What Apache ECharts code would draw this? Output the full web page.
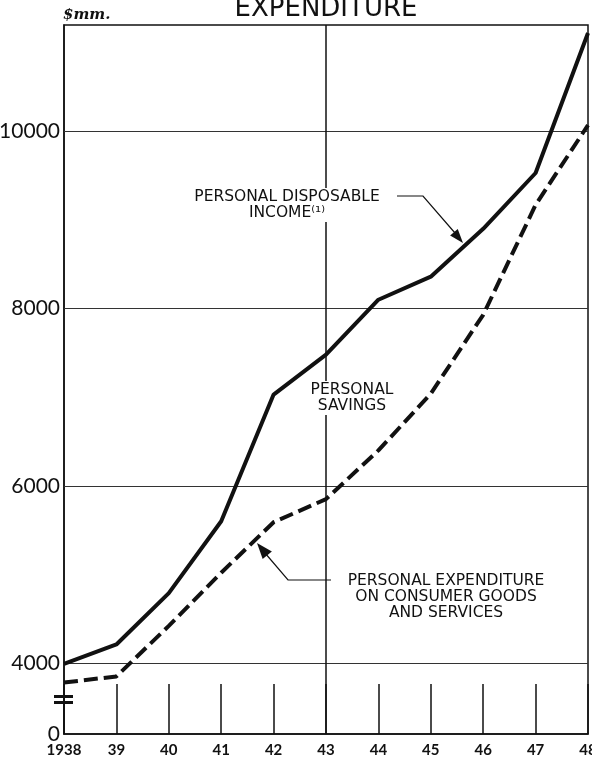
<!DOCTYPE html>
<html>
<head>
<meta charset="utf-8">
<script src="https://cdn.jsdelivr.net/npm/echarts@6/dist/echarts.min.js"></script>
<style>
  html, body { margin: 0; padding: 0; background: #fff; }
  #chart { width: 592px; height: 758px; }
</style>
</head>
<body>
<div id="chart"></div>
<script>
const years = ["1938", "39", "40", "41", "42", "43", "44", "45", "46", "47", "48"];
const disposableIncome = [3990, 4210, 4790, 5600, 7030, 7480, 8100, 8360, 8900, 9530, 11110];
const consumerExpenditure = [3780, 3850, 4420, 5020, 5590, 5850, 6400, 7040, 7930, 9170, 10070];
const gridValues = [4000, 6000, 8000, 10000];
const yLabels = { 3200: "0", 4000: "4000", 6000: "6000", 8000: "8000", 10000: "10000" };

const chart = echarts.init(document.getElementById("chart"));

// small filled arrowhead pointing at (tx, ty), coming from (fx, fy)
function arrowHead(fx, fy, tx, ty, len, half) {
  const d = Math.hypot(tx - fx, ty - fy);
  const ux = (tx - fx) / d, uy = (ty - fy) / d;
  const bx = tx - ux * len, by = ty - uy * len;
  return {
    type: "polygon",
    z: 100,
    shape: { points: [[tx, ty], [bx - uy * half, by + ux * half], [bx + uy * half, by - ux * half]] },
    style: { fill: "#111" }
  };
}

function note(text, x, y) {
  return {
    type: "text",
    z: 100,
    x: x,
    y: y,
    style: {
      text: text,
      font: "15.5px DejaVu Sans",
      fill: "#111",
      align: "center",
      verticalAlign: "middle",
      backgroundColor: "#fff",
      padding: [1, 3]
    }
  };
}

chart.setOption({
  animation: false,
  backgroundColor: "#fff",
  grid: {
    left: 64,
    right: 4,
    top: 25,
    bottom: 24,
    containLabel: false,
    outerBoundsMode: "none",
    show: true,
    borderColor: "#111",
    borderWidth: 1.5
  },
  xAxis: {
    type: "category",
    data: years,
    boundaryGap: false,
    axisLine: { lineStyle: { color: "#111", width: 1.5 } },
    axisTick: { inside: true, length: 50, interval: 0, lineStyle: { color: "#111", width: 1.5 } },
    axisLabel: {
      interval: 0,
      margin: 9,
      color: "#111",
      fontFamily: "Lato",
      fontSize: 15,
      fontWeight: "bold",
      hideOverlap: false
    },
    splitLine: { show: false }
  },
  yAxis: {
    type: "value",
    min: 3200,
    max: 11200,
    interval: 400,
    axisLine: { show: true, lineStyle: { color: "#111", width: 1.5 } },
    axisTick: { show: false },
    splitLine: { show: false },
    axisLabel: {
      margin: 4,
      color: "#111",
      fontFamily: "Lato",
      fontSize: 21,
      formatter: (v) => yLabels[v] || ""
    }
  },
  series: [
    {
      name: "Personal disposable income",
      type: "line",
      data: disposableIncome,
      symbol: "none",
      lineStyle: { color: "#111", width: 4 },
      z: 5,
      markLine: {
        silent: true,
        symbol: "none",
        label: { show: false },
        lineStyle: { color: "#333", width: 1, type: "solid" },
        data: gridValues.map((v) => ({ yAxis: v })).concat([
          { xAxis: "43", lineStyle: { color: "#111", width: 1.5 } }
        ])
      }
    },
    {
      name: "Personal expenditure on consumer goods and services",
      type: "line",
      data: consumerExpenditure,
      symbol: "none",
      lineStyle: { color: "#111", width: 4, type: [14, 6] },
      z: 5
    }
  ],
  graphic: [
    {
      type: "text",
      x: 326,
      y: 9,
      style: { text: "EXPENDITURE", font: "26px DejaVu Sans", fill: "#111", align: "center", verticalAlign: "middle" }
    },
    {
      type: "text",
      x: 63,
      y: 15,
      style: { text: "$mm.", font: "italic bold 15px DejaVu Serif", fill: "#111", align: "left", verticalAlign: "middle" }
    },
    // axis break marks
    { type: "rect", shape: { x: 54, y: 695, width: 19, height: 3 }, style: { fill: "#111" } },
    { type: "rect", shape: { x: 54, y: 701, width: 19, height: 3 }, style: { fill: "#111" } },

    note("PERSONAL DISPOSABLE", 287, 197),
    note("INCOME⁽¹⁾", 287, 213),
    {
      type: "polyline",
      z: 100,
      shape: { points: [[397, 196], [423, 196], [455, 233]] },
      style: { stroke: "#111", lineWidth: 1.2, fill: null }
    },
    arrowHead(423, 196, 463, 243, 14, 5),

    note("PERSONAL", 352, 390),
    note("SAVINGS", 352, 406),

    note("PERSONAL EXPENDITURE", 446, 581),
    note("ON CONSUMER GOODS", 446, 597),
    note("AND SERVICES", 446, 613),
    {
      type: "polyline",
      z: 100,
      shape: { points: [[331, 580], [288, 580], [265, 553]] },
      style: { stroke: "#111", lineWidth: 1.2, fill: null }
    },
    arrowHead(288, 580, 257, 543, 16, 6)
  ]
});
</script>
</body>
</html>
